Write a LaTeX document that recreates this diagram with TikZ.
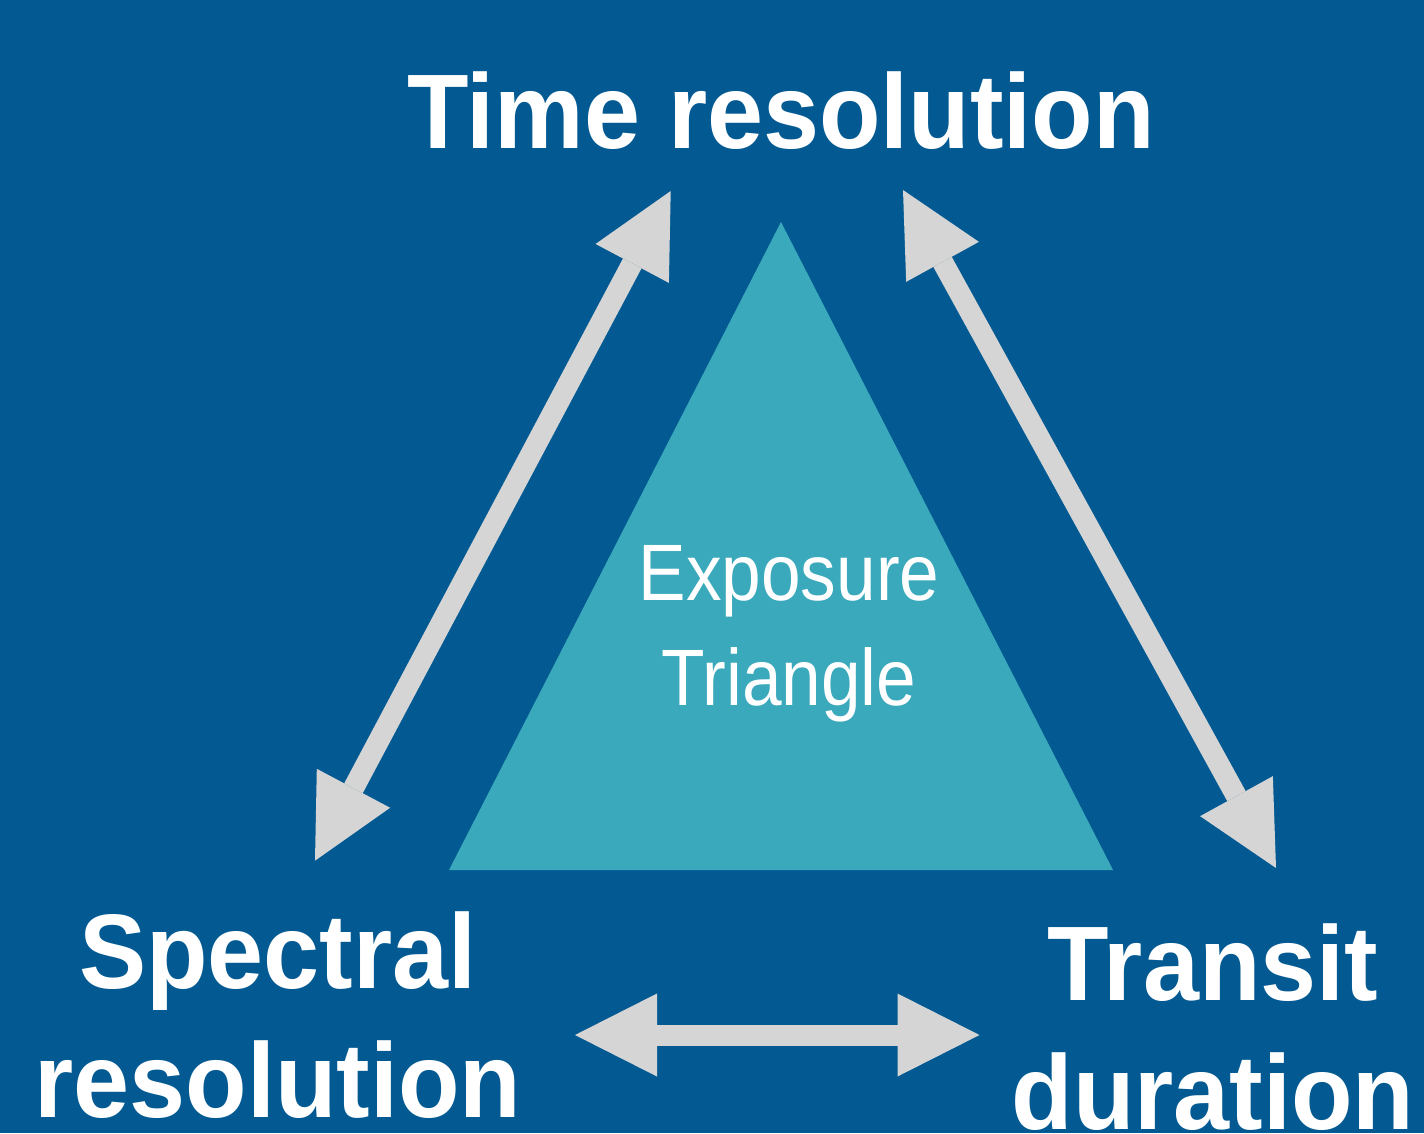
\documentclass[tikz,border=0pt]{standalone}
\usepackage{fontspec}
\setmainfont{Liberation Sans}
\newfontfamily\labelfont[FakeStretch=0.95]{Liberation Sans}
\newfontfamily\innerfont[FakeStretch=0.89]{Liberation Sans}
\usetikzlibrary{arrows.meta}
\definecolor{bgblue}{RGB}{3,90,146}
\definecolor{teal}{RGB}{58,169,188}
\definecolor{arrowgray}{RGB}{213,213,213}
\tikzset{
  biglabel/.style={text=white, inner sep=0pt, anchor=base,
    font=\labelfont\bfseries\fontsize{106}{120}\selectfont},
  innerlabel/.style={text=white, inner sep=0pt, anchor=base,
    font=\innerfont\fontsize{80}{96}\selectfont},
  fatarrow/.style={draw=arrowgray, line width=21pt, line cap=butt,
    {Triangle[length=82pt 0 0, width=83pt 0 0, line width=0pt, fill=arrowgray]}-{Triangle[length=82pt 0 0, width=83pt 0 0, line width=0pt, fill=arrowgray]}}
}
\begin{document}
\begin{tikzpicture}[x=1pt, y=-1pt]
\fill[bgblue] (0,0) rectangle (1424,1133);
\useasboundingbox (0,0) rectangle (1424,1133);
% triangle
\coordinate (apex) at (781,222);
\coordinate (bl) at (449,870);
\coordinate (br) at (1113,870);
\fill[teal] (apex) -- (bl) -- (br) -- cycle;
% labels
\node[biglabel] (time) at (781,148) {Time resolution};
\node[biglabel] (spec1) at (278,988) {Spectral};
\node[biglabel] (spec2) at (278,1117) {resolution};
\node[biglabel] (trans1) at (1213,1000) {Transit};
\node[biglabel] (trans2) at (1213,1129) {duration};
\node[innerlabel] (exp1) at (789,600) {Exposure};
\node[innerlabel] (exp2) at (789,705) {Triangle};
% arrow end points
\coordinate (a1t) at (670.7,191);
\coordinate (a1b) at (315,860.7);
\coordinate (a2t) at (903,190);
\coordinate (a2b) at (1276,868);
\coordinate (a3l) at (575,1035);
\coordinate (a3r) at (979.5,1035);
\draw[fatarrow] (a1t) -- (a1b);
\draw[fatarrow] (a2t) -- (a2b);
\draw[fatarrow] (a3l) -- (a3r);
\end{tikzpicture}
\end{document}
